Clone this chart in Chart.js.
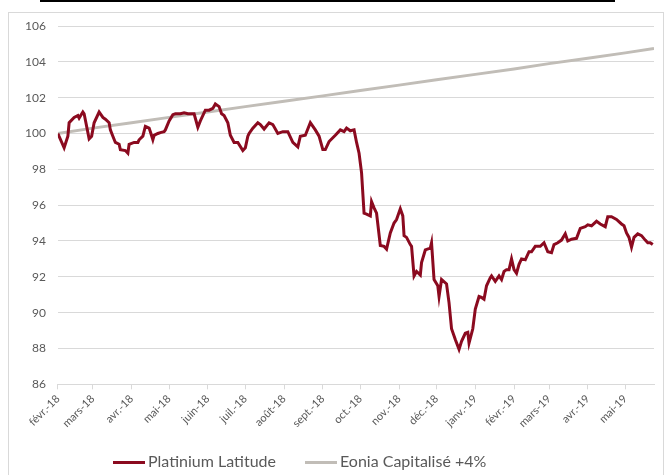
<!DOCTYPE html>
<html>
<head>
<meta charset="utf-8">
<script src="https://cdn.jsdelivr.net/npm/chart.js@4/dist/chart.umd.min.js"></script>
<style>
    body { margin: 0; background: #fff; }
    #cadre { position: absolute; left: 0; top: 0; width: 668px; height: 475px; }
    #titre { position: absolute; left: 40px; top: 0; width: 575px; height: 2px; background: #000; }
    #bordure { position: absolute; left: 8px; top: 12px; width: 656px; height: 470px; border: 1px solid #d9d9d9; box-sizing: border-box; }
    #legende { position: absolute; left: 113px; top: 451px; height: 22px; font-family: Lato, sans-serif; font-size: 16px; color: #595959; white-space: nowrap; }
    #legende .item { display: inline-block; margin-right: 29px; }
    #legende .trait { display: inline-block; width: 32px; height: 3px; vertical-align: middle; margin-right: 3px; }
</style>
</head>
<body>
<div id="titre"></div>
<div id="bordure"></div>
<div id="cadre"><canvas id="graphique" width="668" height="475"></canvas></div>
<div id="legende"></div>
<script>
// mois affichés sur l'axe (jour depuis le 1er févr. 2018)
var mois = ["févr.-18", "mars-18", "avr.-18", "mai-18", "juin-18", "juil.-18", "août-18", "sept.-18",
            "oct.-18", "nov.-18", "déc.-18", "janv.-19", "févr.-19", "mars-19", "avr.-19", "mai-19"];
var moisJours = [0, 28, 59, 89, 120, 150, 181, 212, 242, 273, 303, 334, 365, 393, 424, 454];
var dernierJour = 477;

// Platinium Latitude
var jours = [0, 5, 8, 9, 13, 16, 17, 20, 21, 25, 27, 29, 33, 36, 38, 41, 42, 44, 46, 49,
             50, 54, 56, 57, 61, 64, 65, 68, 70, 73, 74, 76, 77, 80, 82, 85, 86, 89, 92, 94,
             98, 101, 104, 106, 109, 112, 114, 118, 121, 124, 126, 129, 131, 133, 136, 138, 141, 144, 148, 150,
             152, 153, 156, 160, 162, 165, 169, 172, 176, 180, 184, 188, 192, 194, 198, 202, 206, 209, 212, 214,
             217, 222, 226, 229, 231, 234, 237, 239, 241, 243, 245, 247, 250, 251, 253, 255, 258, 261, 263, 266,
             269, 271, 274, 276, 277, 279, 282, 283, 285, 287, 290, 291, 294, 298, 299, 301, 304, 305, 307, 311,
             313, 315, 318, 321, 323, 326, 328, 329, 332, 334, 337, 339, 341, 343, 346, 347, 350, 353, 355, 357,
             359, 361, 363, 365, 367, 369, 371, 374, 377, 379, 382, 386, 389, 392, 395, 397, 400, 403, 406, 408,
             411, 415, 418, 422, 424, 427, 431, 434, 438, 440, 443, 447, 451, 453, 455, 457, 459, 461, 464, 467,
             470, 472, 474, 476];
var platinium = [100.0, 99.2, 99.85, 100.6, 100.9, 101.0, 100.86, 101.2, 101.1, 99.7, 99.85, 100.6, 101.2, 100.9, 100.8, 100.6, 100.2, 99.85, 99.5, 99.4,
                 99.1, 99.05, 98.9, 99.4, 99.5, 99.5, 99.65, 99.85, 100.4, 100.3, 100.1, 99.65, 99.9, 100.0, 100.05, 100.1, 100.2, 100.7, 101.05, 101.1,
                 101.1, 101.15, 101.1, 101.1, 101.1, 100.35, 100.7, 101.3, 101.3, 101.4, 101.65, 101.5, 101.1, 101.0, 100.6, 99.9, 99.5, 99.5, 99.05, 99.2,
                 99.85, 100.0, 100.3, 100.6, 100.5, 100.25, 100.6, 100.5, 100.0, 100.1, 100.1, 99.5, 99.25, 99.85, 99.9, 100.6, 100.2, 99.85, 99.1, 99.1,
                 99.55, 99.9, 100.2, 100.1, 100.3, 100.15, 100.2, 99.5, 98.9, 97.8, 95.55, 95.5, 95.4, 96.2, 95.85, 95.55, 93.75, 93.7, 93.55, 94.45,
                 95.0, 95.2, 95.8, 95.4, 94.3, 94.2, 93.8, 93.7, 92.05, 92.3, 92.1, 92.8, 93.5, 93.6, 93.9, 91.85, 91.5, 90.9, 91.85, 91.6,
                 90.55, 89.1, 88.5, 87.95, 88.4, 88.85, 88.9, 88.3, 89.1, 90.2, 90.9, 90.85, 90.75, 91.5, 91.95, 92.05, 91.75, 92.05, 91.85, 92.3,
                 92.4, 92.4, 93.0, 92.4, 92.2, 92.7, 93.0, 92.95, 93.4, 93.4, 93.7, 93.7, 93.9, 93.4, 93.35, 93.8, 93.9, 94.05, 94.4, 94.0,
                 94.1, 94.15, 94.7, 94.8, 94.9, 94.85, 95.1, 94.95, 94.8, 95.35, 95.35, 95.2, 94.95, 94.85, 94.45, 94.2, 93.65, 94.2, 94.4, 94.3,
                 94.05, 93.9, 93.9, 93.8];

// Eonia Capitalisé +4%
var eoniaJours = [0, 28, 59, 89, 120, 150, 181, 212, 242, 273, 303, 334, 365, 393, 424, 454, 477];
var eonia = [100.0, 100.3, 100.6, 100.9, 101.2, 101.5, 101.8, 102.1, 102.4, 102.7, 103.0, 103.3, 103.6, 103.9, 104.2, 104.5, 104.75];

var rouge = "#8b0a1f";
var gris = "#c1bdb7";
var texte = "#595959";

function points(xs, ys) {
    var res = [];
    for (var i = 0; i < xs.length; i++) {
        res.push({x: xs[i], y: ys[i]});
    }
    return res;
}

var ctx = document.getElementById("graphique");
var chart = new Chart(ctx, {
    type: "line",
    data: {
        datasets: [{
            label: "Platinium Latitude",
            data: points(jours, platinium),
            borderColor: rouge,
            backgroundColor: rouge,
            borderWidth: 3,
            pointRadius: 0,
            tension: 0,
            order: 1
        }, {
            label: "Eonia Capitalisé +4%",
            data: points(eoniaJours, eonia),
            borderColor: gris,
            backgroundColor: gris,
            borderWidth: 3,
            pointRadius: 0,
            tension: 0,
            order: 2
        }]
    },
    options: {
        responsive: false,
        animation: false,
        layout: { padding: { left: 13, right: 14, top: 26, bottom: 42 } },
        plugins: {
            tooltip: { enabled: false },
            legend: { display: false }
        },
        scales: {
            x: {
                type: "linear",
                min: 0,
                max: dernierJour,
                afterBuildTicks: function(axis) {
                    axis.ticks = moisJours.map(function(j) { return {value: j}; });
                },
                ticks: {
                    autoSkip: false,
                    minRotation: 45,
                    maxRotation: 45,
                    color: texte,
                    font: { family: "Lato", size: 11 },
                    callback: function(value, index) { return mois[index]; }
                },
                grid: { drawOnChartArea: false, drawTicks: true, tickLength: 5, color: "#d9d9d9" },
                border: { color: "#d9d9d9" }
            },
            y: {
                min: 86,
                max: 106,
                ticks: {
                    stepSize: 2,
                    color: texte,
                    padding: 12,
                    font: { family: "Lato", size: 12 }
                },
                grid: { color: "#d9d9d9", drawTicks: false },
                border: { display: false }
            }
        }
    }
});

// légende en HTML, à partir des séries du graphique
var legende = document.getElementById("legende");
chart.data.datasets.forEach(function(ds) {
    var item = document.createElement("span");
    item.className = "item";
    var trait = document.createElement("span");
    trait.className = "trait";
    trait.style.background = ds.borderColor;
    item.appendChild(trait);
    item.appendChild(document.createTextNode(ds.label));
    legende.appendChild(item);
});
</script>
</body>
</html>
